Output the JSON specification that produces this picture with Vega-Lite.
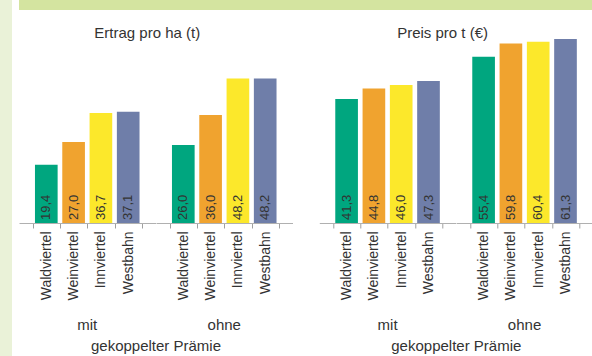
{
  "$schema": "https://vega.github.io/schema/vega-lite/v6.json",
  "padding": 0,
  "background": "white",
  "config": {
    "font": "Liberation Sans",
    "view": {"stroke": null},
    "locale": {"number": {"decimal": ",", "thousands": ".", "grouping": [3], "currency": ["", " €"]}},
    "axis": {"labelColor": "#333333", "labelFont": "Liberation Sans"},
    "header": {
      "labelOrient": "bottom", "titleOrient": "bottom",
      "labelFontSize": 15, "titleFontSize": 15, "titleFontWeight": "normal",
      "labelColor": "#333333", "titleColor": "#333333",
      "labelFont": "Liberation Sans", "titleFont": "Liberation Sans",
      "labelPadding": 18, "titlePadding": -4
    },
    "title": {"fontSize": 15, "fontWeight": "normal", "color": "#333333", "font": "Liberation Sans", "offset": -4, "anchor": "middle"}
  },
  "datasets": {
    "d": [
      {"panel": "E", "grp": "mit", "region": "Waldviertel", "value": 19.4},
      {"panel": "E", "grp": "mit", "region": "Weinviertel", "value": 27.0},
      {"panel": "E", "grp": "mit", "region": "Innviertel", "value": 36.7},
      {"panel": "E", "grp": "mit", "region": "Westbahn", "value": 37.1},
      {"panel": "E", "grp": "ohne", "region": "Waldviertel", "value": 26.0},
      {"panel": "E", "grp": "ohne", "region": "Weinviertel", "value": 36.0},
      {"panel": "E", "grp": "ohne", "region": "Innviertel", "value": 48.2},
      {"panel": "E", "grp": "ohne", "region": "Westbahn", "value": 48.2},
      {"panel": "P", "grp": "mit", "region": "Waldviertel", "value": 41.3},
      {"panel": "P", "grp": "mit", "region": "Weinviertel", "value": 44.8},
      {"panel": "P", "grp": "mit", "region": "Innviertel", "value": 46.0},
      {"panel": "P", "grp": "mit", "region": "Westbahn", "value": 47.3},
      {"panel": "P", "grp": "ohne", "region": "Waldviertel", "value": 55.4},
      {"panel": "P", "grp": "ohne", "region": "Weinviertel", "value": 59.8},
      {"panel": "P", "grp": "ohne", "region": "Innviertel", "value": 60.4},
      {"panel": "P", "grp": "ohne", "region": "Westbahn", "value": 61.3}
    ]
  },
  "spacing": 0,
  "hconcat": [
    {
      "width": 12, "height": 356,
      "data": {"values": [{}]},
      "mark": {"type": "rect", "color": "#EAF2D8"},
      "encoding": {}
    },
    {
      "spacing": 16,
      "vconcat": [
        {
          "width": 580, "height": 10,
          "data": {"values": [{}]},
          "mark": {"type": "rect", "color": "#D4E4A0"},
          "encoding": {}
        },
        {
          "spacing": 19.3,
          "resolve": {"scale": {"y": "independent", "x": "independent"}},
          "hconcat": [
            {
              "data": {"name": "d"},
              "transform": [{"filter": "datum.panel == 'E'"}],
              "title": {"text": "Ertrag pro ha (t)", "dx": -5},
              "spacing": 0,
              "facet": {"column": {"field": "grp", "type": "nominal", "title": "gekoppelter Prämie"}},
              "spec": {
                "width": 136.5, "height": 186,
                "layer": [
                  {
                    "mark": {"type": "bar", "width": {"band": 0.83}},
                    "encoding": {
                      "x": {"field": "region", "type": "nominal", "sort": ["Waldviertel", "Weinviertel", "Innviertel", "Westbahn"],
                        "scale": {"paddingInner": 0, "paddingOuter": 0.5},
                        "axis": {"title": null, "labelAngle": -90, "labelFontSize": 14, "tickBand": "extent", "tickSize": 5, "labelPadding": 3, "tickColor": "#a0a0a0", "domainColor": "#b0b0b0"}},
                      "y": {"field": "value", "type": "quantitative", "scale": {"domain": [0, 62], "nice": false},
                        "axis": {"labels": false, "domain": false, "grid": false, "title": null, "tickSize": 6, "tickColor": "white", "tickCount": 2}},
                      "color": {"field": "region", "type": "nominal",
                        "scale": {"domain": ["Waldviertel", "Weinviertel", "Innviertel", "Westbahn"], "range": ["#00A67F", "#F0A32F", "#FCE82B", "#6F7EA9"]},
                        "legend": null}
                    }
                  },
                  {
                    "mark": {"type": "text", "angle": -90, "align": "left", "baseline": "middle", "dx": 3, "fontSize": 13, "color": "#333333"},
                    "encoding": {
                      "x": {"field": "region", "type": "nominal", "sort": ["Waldviertel", "Weinviertel", "Innviertel", "Westbahn"]},
                      "y": {"datum": 0},
                      "text": {"field": "value", "type": "quantitative", "format": ".1f"}
                    }
                  }
                ]
              }
            },
            {
              "data": {"name": "d"},
              "transform": [{"filter": "datum.panel == 'P'"}],
              "title": {"text": "Preis pro t (€)", "dx": -10},
              "spacing": 0,
              "facet": {"column": {"field": "grp", "type": "nominal", "title": "gekoppelter Prämie"}},
              "spec": {
                "width": 136.5, "height": 186,
                "layer": [
                  {
                    "mark": {"type": "bar", "width": {"band": 0.83}},
                    "encoding": {
                      "x": {"field": "region", "type": "nominal", "sort": ["Waldviertel", "Weinviertel", "Innviertel", "Westbahn"],
                        "scale": {"paddingInner": 0, "paddingOuter": 0.5},
                        "axis": {"title": null, "labelAngle": -90, "labelFontSize": 14, "tickBand": "extent", "tickSize": 5, "labelPadding": 3, "tickColor": "#a0a0a0", "domainColor": "#b0b0b0"}},
                      "y": {"field": "value", "type": "quantitative", "scale": {"domain": [0, 62], "nice": false}, "axis": null},
                      "color": {"field": "region", "type": "nominal",
                        "scale": {"domain": ["Waldviertel", "Weinviertel", "Innviertel", "Westbahn"], "range": ["#00A67F", "#F0A32F", "#FCE82B", "#6F7EA9"]},
                        "legend": null}
                    }
                  },
                  {
                    "mark": {"type": "text", "angle": -90, "align": "left", "baseline": "middle", "dx": 3, "fontSize": 13, "color": "#333333"},
                    "encoding": {
                      "x": {"field": "region", "type": "nominal", "sort": ["Waldviertel", "Weinviertel", "Innviertel", "Westbahn"]},
                      "y": {"datum": 0},
                      "text": {"field": "value", "type": "quantitative", "format": ".1f"}
                    }
                  }
                ]
              }
            }
          ]
        }
      ]
    }
  ]
}
